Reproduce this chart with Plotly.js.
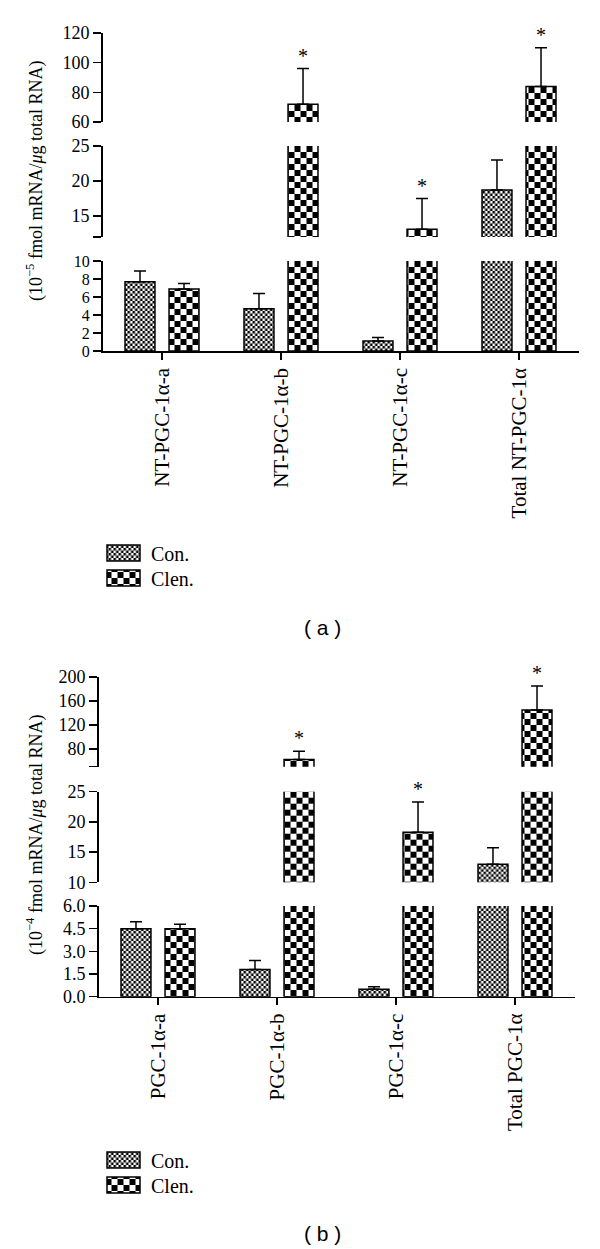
<!DOCTYPE html>
<html><head><meta charset="utf-8">
<script src="https://cdn.plot.ly/plotly-3.0.1.min.js"></script>
<style>html,body{margin:0;padding:0;background:#fff}</style>
</head><body><div id="chart" style="width:600px;height:1249px"></div>
<script>
// ---------- Panel (a) data ----------
const catsA = ['NT-PGC-1α-a', 'NT-PGC-1α-b', 'NT-PGC-1α-c', 'Total NT-PGC-1α'];
const conA = [7.7, 4.7, 1.1, 18.7];
const conErrA = [1.2, 1.7, 0.4, 4.3];
const clenA = [6.9, 72, 13.1, 84];
const clenErrA = [0.6, 24, 4.4, 26];
const sigA = [false, true, true, true];
const segRangesA = [[0, 10], [12, 25], [60, 120]];
const tickValsA = [[0, 2, 4, 6, 8, 10], [15, 20, 25], [60, 80, 100, 120]];
const tickTextA = [['0', '2', '4', '6', '8', '10'], ['15', '20', '25'], ['60', '80', '100', '120']];
const endTicksA = [[], [12], []];

// ---------- Panel (b) data ----------
const catsB = ['PGC-1α-a', 'PGC-1α-b', 'PGC-1α-c', 'Total PGC-1α'];
const conB = [4.5, 1.8, 0.5, 13];
const conErrB = [0.45, 0.6, 0.15, 2.7];
const clenB = [4.5, 62, 18.3, 145];
const clenErrB = [0.3, 14, 5, 40];
const sigB = [false, true, true, true];
const segRangesB = [[0, 6], [10, 25], [50, 200]];
const tickValsB = [[0, 1.5, 3, 4.5, 6], [10, 15, 20, 25], [80, 120, 160, 200]];
const tickTextB = [['0.0', '1.5', '3.0', '4.5', '6.0'], ['10', '15', '20', '25'], ['80', '120', '160', '200']];
const endTicksB = [[], [], [50]];

const seriesNames = ['Con.', 'Clen.'];

// ---------- layout geometry (pixels) ----------
const W = 600, H = 1249;
const px = v => v / W;
const py = v => 1 - v / H;
const serif = 'Liberation Serif, Times New Roman, serif';
const BARGAP = 0.26, GROUPGAP = 0.32;

const traces = [];
const annotations = [];
const layout = {
  width: W, height: H,
  margin: {l: 0, r: 0, t: 0, b: 0},
  paper_bgcolor: '#fff', plot_bgcolor: 'rgba(0,0,0,0)',
  barmode: 'group', bargap: BARGAP, bargroupgap: GROUPGAP,
  showlegend: true,
  font: {family: serif, size: 18, color: '#000'},
  annotations: annotations,
};

function yAxisStyle(range, domain, tv, tt, ends, anchor, fs) {
  return {
    range: range, domain: domain, anchor: anchor,
    showline: true, linecolor: '#000', linewidth: 1.5,
    ticks: 'outside', ticklen: 8, tickwidth: 1.5, tickcolor: '#000',
    tickmode: 'array', tickvals: tv, ticktext: tt,
    minor: {tickmode: 'array', tickvals: ends, ticks: 'outside', ticklen: 8, tickwidth: 1.5, tickcolor: '#000', showgrid: false},
    tickfont: {family: serif, size: fs, color: '#000'},
    showgrid: false, zeroline: false, fixedrange: true
  };
}

function legendStyle(x, y) {
  return {
    x: px(x), y: py(y), xanchor: 'left', yanchor: 'middle',
    bgcolor: 'rgba(0,0,0,0)', borderwidth: 0, itemwidth: 45,
    font: {family: serif, size: 20, color: '#000'}, traceorder: 'normal'
  };
}

function buildPanel(p) {
  layout[p.xName] = {
    type: 'category', domain: p.xDomain, anchor: p.yIds[0],
    range: [-0.5, 3.5],
    showline: true, linecolor: '#000', linewidth: 1.5,
    ticks: 'outside', ticklen: 7, tickwidth: 1.5, tickcolor: '#000',
    tickangle: -90, tickfont: {family: serif, size: 21, color: '#000'},
    showgrid: false, zeroline: false, fixedrange: true
  };
  p.yIds.forEach((yid, k) => {
    const name = 'yaxis' + (yid === 'y' ? '' : yid.slice(1));
    layout[name] = yAxisStyle(p.ranges[k], p.yDomains[k], p.tickVals[k], p.tickText[k], p.endTicks[k], p.xId, p.tickSizes[k]);
  });
  const series = [
    {name: seriesNames[0], y: p.con, err: p.conErr, color: 'rgb(1,1,1)', legend: p.legends[0]},
    {name: seriesNames[1], y: p.clen, err: p.clenErr, color: 'rgb(2,2,2)', legend: p.legends[1]}
  ];
  p.yIds.forEach((yid, k) => {
    series.forEach(s => {
      traces.push({
        type: 'bar', name: s.name, x: p.cats, y: s.y,
        xaxis: p.xId, yaxis: yid,
        marker: {color: s.color, line: {color: '#000', width: 1.5}},
        error_y: {type: 'data', symmetric: false, array: s.err,
                  arrayminus: s.err.map(() => 0), color: '#000', thickness: 1.5, width: 6},
        showlegend: k === 0, legend: s.legend,
        hoverinfo: 'skip'
      });
    });
  });
  const off = (1 - BARGAP) / 4;
  p.sig.forEach((s, i) => {
    if (!s) return;
    const top = p.clen[i] + p.clenErr[i];
    let k = p.ranges.findIndex(r => top >= r[0] && top <= r[1]);
    if (k < 0) k = p.ranges.length - 1;
    annotations.push({
      xref: p.xId, yref: p.yIds[k], x: i + off, y: top,
      text: '*', showarrow: false, yanchor: 'bottom', yshift: 0,
      font: {family: serif, size: 20, color: '#000'}
    });
  });
  annotations.push({
    xref: 'paper', yref: 'paper', x: px(p.titleX), y: py(p.titleY),
    text: p.title, textangle: -90, showarrow: false,
    xanchor: 'center', yanchor: 'middle',
    font: {family: serif, size: 18, color: '#000'}
  });
  annotations.push({
    xref: 'paper', yref: 'paper', x: px(322), y: py(p.labelY),
    text: p.label, showarrow: false, xanchor: 'center', yanchor: 'middle',
    font: {family: 'Liberation Sans, Arial, sans-serif', size: 21, color: '#000'}
  });
  layout[p.legends[0]] = legendStyle(96, p.legY[0]);
  layout[p.legends[1]] = legendStyle(96, p.legY[1]);
}

buildPanel({
  cats: catsA, con: conA, conErr: conErrA, clen: clenA, clenErr: clenErrA, sig: sigA,
  xName: 'xaxis', xId: 'x', yIds: ['y', 'y2', 'y3'],
  xDomain: [px(102.5), px(578.5)],
  yDomains: [[py(351), py(261)], [py(237), py(146)], [py(122), py(33)]],
  ranges: segRangesA, tickVals: tickValsA, tickText: tickTextA, endTicks: endTicksA,
  tickSizes: [16, 18, 18],
  title: '(10<sup>−5</sup> fmol mRNA/<i>μ</i>g total RNA)', titleX: 35, titleY: 181,
  label: '( a )', labelY: 627,
  legends: ['legend', 'legend2'], legY: [553, 578]
});
buildPanel({
  cats: catsB, con: conB, conErr: conErrB, clen: clenB, clenErr: clenErrB, sig: sigB,
  xName: 'xaxis2', xId: 'x2', yIds: ['y4', 'y5', 'y6'],
  xDomain: [px(98.5), px(574.5)],
  yDomains: [[py(996.7), py(906)], [py(882.3), py(791.7)], [py(766.7), py(677)]],
  ranges: segRangesB, tickVals: tickValsB, tickText: tickTextB, endTicks: endTicksB,
  tickSizes: [18, 18, 18],
  title: '(10<sup>−4</sup> fmol mRNA/<i>μ</i>g total RNA)', titleX: 35, titleY: 835,
  label: '( b )', labelY: 1233,
  legends: ['legend3', 'legend4'], legY: [1160, 1185]
});

function patchPatterns() {
  const gd = document.getElementById('chart');
  const svg = gd.querySelector('.main-svg');
  const defs = svg.querySelector('defs');
  const ns = 'http://www.w3.org/2000/svg';
  function mk(id, cell) {
    if (document.getElementById(id)) return;
    const p = document.createElementNS(ns, 'pattern');
    p.setAttribute('id', id);
    p.setAttribute('patternUnits', 'userSpaceOnUse');
    p.setAttribute('width', 2 * cell); p.setAttribute('height', 2 * cell);
    const rects = [[0, 0, 2 * cell, 2 * cell, '#fff'], [0, 0, cell, cell, '#000'], [cell, cell, cell, cell, '#000']];
    rects.forEach(r => {
      const e = document.createElementNS(ns, 'rect');
      e.setAttribute('x', r[0]); e.setAttribute('y', r[1]);
      e.setAttribute('width', r[2]); e.setAttribute('height', r[3]);
      e.setAttribute('fill', r[4]);
      p.appendChild(e);
    });
    defs.appendChild(p);
  }
  mk('chkFine', 2.5); mk('chkCoarse', 6);
  gd.querySelectorAll('path').forEach(el => {
    const f = el.style.fill;
    if (f === 'rgb(1, 1, 1)') el.style.fill = 'url(#chkFine)';
    else if (f === 'rgb(2, 2, 2)') el.style.fill = 'url(#chkCoarse)';
  });
  gd.querySelectorAll('.legendpoints path').forEach(el => {
    el.setAttribute('d', 'M16.5,8H-16.5V-8H16.5Z');
  });
}

Plotly.newPlot('chart', traces, layout, {staticPlot: true, responsive: false})
  .then(patchPatterns);
</script>
</body></html>
